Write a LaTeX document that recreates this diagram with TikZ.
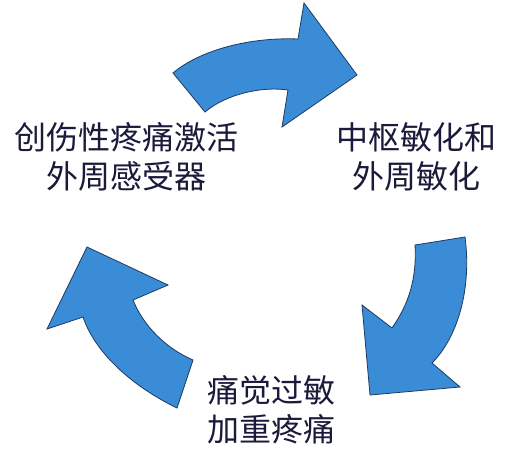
\documentclass[tikz,border=0pt]{standalone}
\usepackage{fontspec}
\newfontfamily\cjk{Noto Sans CJK SC}
\definecolor{arrowfill}{HTML}{3A8CD6}
\definecolor{arrowline}{HTML}{1F3A60}
\definecolor{txt}{HTML}{1A1A3A}
\begin{document}
\begin{tikzpicture}[x=1pt,y=-1pt,
  bigarrow/.style={fill=arrowfill,draw=arrowline,line width=0.8pt,line join=miter},
  lbl/.style={text=txt,font=\cjk\fontsize{32}{39}\selectfont,align=center,inner sep=0pt}]
\useasboundingbox[fill=white] (0,0) rectangle (510,452);
% top arrow
\draw[bigarrow] (173,73) .. controls (200,50) and (250,37) .. (298,39)
  -- (304,3) -- (357,75) -- (282,127) -- (288,90)
  .. controls (260,86) and (225,95) .. (205,112) -- cycle;
% right arrow
\draw[bigarrow] (465,237) .. controls (472,290) and (457,338) .. (432,363)
  -- (460,387) -- (370,395) -- (362,305) -- (392,328)
  .. controls (408,305) and (417,280) .. (415,245) -- cycle;
% left arrow
\draw[bigarrow] (177,408) .. controls (130,385) and (95,352) .. (83,317)
  -- (47,329) -- (87,247) -- (168,285) -- (133,300)
  .. controls (143,325) and (165,348) .. (193,360) -- cycle;
\node[lbl] (a) at (126,157) {创伤性疼痛激活\\外周感受器};
\node[lbl] (b) at (416,157) {中枢敏化和\\外周敏化};
\node[lbl] (c) at (271,410) {痛觉过敏\\加重疼痛};
\end{tikzpicture}
\end{document}
